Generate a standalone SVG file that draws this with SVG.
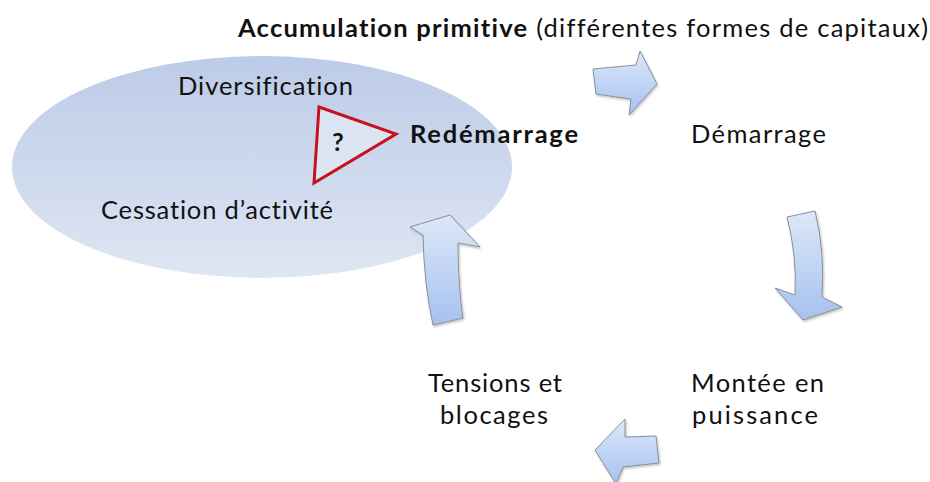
<svg xmlns="http://www.w3.org/2000/svg" width="930" height="482" viewBox="0 0 930 482">
<defs>
<linearGradient id="ell" x1="0" y1="0" x2="0" y2="1">
<stop offset="0" stop-color="#bccbe8"/>
<stop offset="1" stop-color="#dfe6f3"/>
</linearGradient>
<linearGradient id="arr" x1="0" y1="0" x2="0" y2="1">
<stop offset="0" stop-color="#dde8f9"/>
<stop offset="1" stop-color="#a6c1ef"/>
</linearGradient>
<filter id="sh" x="-20%" y="-20%" width="140%" height="140%">
<feDropShadow dx="1" dy="1.5" stdDeviation="1.2" flood-color="#000" flood-opacity="0.25"/>
</filter>
</defs>
<style>
text{font-family:Lato,"Open Sans","Liberation Sans",sans-serif;font-size:25.5px;fill:#111;font-variant-ligatures:none}
.b{font-weight:bold}
.a{fill:url(#arr);stroke:#8a9099;stroke-width:1;filter:url(#sh)}
</style>
<rect width="930" height="482" fill="#fff"/>
<g id="ellipse-group">
<ellipse cx="262" cy="167" rx="250" ry="111" fill="url(#ell)"/>
<text x="178" y="95" textLength="175">Diversification</text>
<text x="101" y="219" textLength="232">Cessation d’activité</text>
</g>
<g id="triangle">
<polygon points="319,107 396,134 314,183" fill="#dce6f2" stroke="#c8101e" stroke-width="3" stroke-linejoin="miter"/>
<text x="332" y="151" class="b">?</text>
</g>
<g id="redemarrage"><text x="410" y="143" class="b" textLength="168">Redémarrage</text></g>
<g id="accumulation"><text x="238" y="37" textLength="690"><tspan class="b">Accumulation primitive</tspan> (différentes formes de capitaux)</text></g>
<g id="demarrage"><text x="691" y="143" textLength="135">Démarrage</text></g>
<g id="montee"><text x="691" y="392" textLength="133">Montée en</text><text x="692" y="424" textLength="126">puissance</text></g>
<g id="tensions"><text x="428" y="392" textLength="134">Tensions et</text><text x="440" y="424" textLength="108">blocages</text></g>
<g id="connectors">
<path class="a" d="M593,69 L636,65 L640,51 L657,84 L629,115 L631,99 L596,94 Z"/>
<path class="a" d="M787,217 L815,211 Q825,250 822,297 L842,307 L803,320 L775,288 L795,295 Q797,255 787,217 Z"/>
<path class="a" d="M595,450 L625,419 L625,437 L656,436 L659,463 L623,467 L616,484 Z"/>
<path class="a" d="M450,215 L480,247 L458,243 Q458,285 463,318 L433,325 Q424,285 423,235 L410,227 Z"/>
</g>
</svg>
